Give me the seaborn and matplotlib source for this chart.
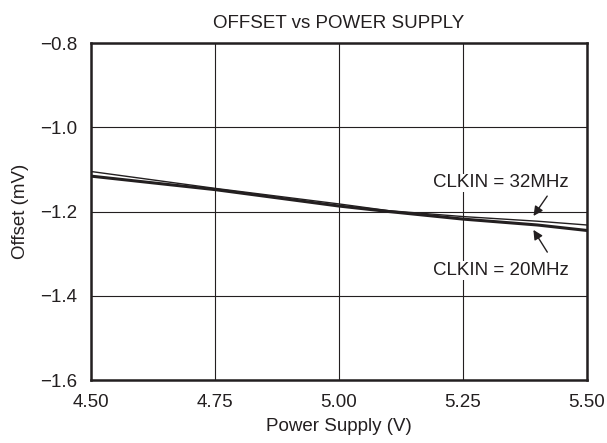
import matplotlib
matplotlib.use("Agg")
import matplotlib.pyplot as plt
import pandas as pd
import seaborn as sns

# Data
supply_32 = [4.50, 4.75, 5.00, 5.10, 5.25, 5.40, 5.50]
offset_32 = [-1.105, -1.145, -1.182, -1.198, -1.212, -1.223, -1.232]
supply_20 = [4.50, 4.75, 5.00, 5.10, 5.25, 5.40, 5.50]
offset_20 = [-1.116, -1.148, -1.187, -1.200, -1.218, -1.232, -1.245]

xticks = [4.50, 4.75, 5.00, 5.25, 5.50]
yticks = [-1.6, -1.4, -1.2, -1.0, -0.8]

sns.set_theme(style="white")
plt.rcParams['font.family'] = ['Liberation Sans', 'DejaVu Sans']

df32 = pd.DataFrame({"supply": supply_32, "offset": offset_32})
df20 = pd.DataFrame({"supply": supply_20, "offset": offset_20})

ink = "#231f20"
fs = 13.5

fig = plt.figure(figsize=(6.07, 4.43), dpi=100)
ax = fig.add_axes([0.1499, 0.1422, 0.8171, 0.7607])

sns.lineplot(data=df32, x="supply", y="offset", ax=ax, color=ink, linewidth=1.0)
sns.lineplot(data=df20, x="supply", y="offset", ax=ax, color=ink, linewidth=2.2)

ax.set_xlim(4.5, 5.5)
ax.set_ylim(-1.6, -0.8)
ax.set_xticks(xticks)
ax.set_xticklabels([f"{t:.2f}" for t in xticks])
ax.set_yticks(yticks)
ax.set_yticklabels([f"\u2212{abs(t):.1f}" for t in yticks])
ax.grid(True, color=ink, linewidth=0.8)
for s in ax.spines.values():
    s.set_color(ink)
    s.set_linewidth(1.8)
ax.tick_params(axis="both", labelsize=fs, colors=ink, length=0)
ax.tick_params(axis="x", pad=10)
ax.tick_params(axis="y", pad=10)

ax.set_xlabel("Power Supply (V)", fontsize=fs, color=ink, labelpad=5)
ax.set_ylabel("Offset (mV)", fontsize=fs, color=ink, labelpad=8)
ax.set_title("OFFSET vs POWER SUPPLY", fontsize=fs, color=ink, pad=11)

ax.annotate("", xy=(5.389, -1.216), xytext=(5.423, -1.158),
            arrowprops=dict(arrowstyle="-|>", color=ink, lw=1.0, mutation_scale=14))
ax.annotate("", xy=(5.389, -1.238), xytext=(5.423, -1.302),
            arrowprops=dict(arrowstyle="-|>", color=ink, lw=1.0, mutation_scale=14))
ax.text(5.326, -1.132, "CLKIN = 32MHz", ha="center", va="center", fontsize=fs, color=ink,
        bbox=dict(facecolor="white", edgecolor="none", pad=0.5))
ax.text(5.326, -1.340, "CLKIN = 20MHz", ha="center", va="center", fontsize=fs, color=ink,
        bbox=dict(facecolor="white", edgecolor="none", pad=0.5))

fig.savefig("out.png", dpi=100)
